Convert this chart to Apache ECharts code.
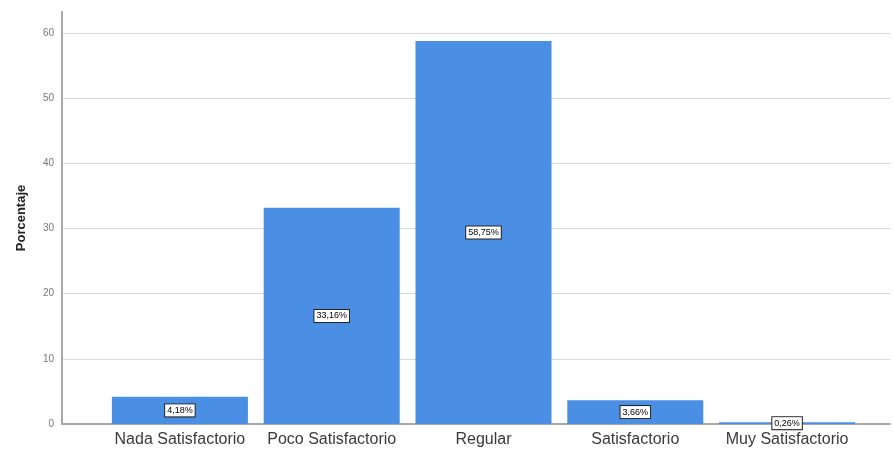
<!DOCTYPE html>
<html>
<head>
<meta charset="utf-8">
<script src="https://cdn.jsdelivr.net/npm/echarts@6/dist/echarts.min.js"></script>
<style>html,body{margin:0;padding:0;background:#fff}#c{width:894px;height:452px}</style>
</head>
<body>
<div id="c"></div>
<script>
var categories = ['Nada Satisfactorio', 'Poco Satisfactorio', 'Regular', 'Satisfactorio', 'Muy Satisfactorio'];
var values = [4.18, 33.16, 58.75, 3.66, 0.26];
var yTicks = [0, 10, 20, 30, 40, 50, 60];
var yName = 'Porcentaje';

var chart = echarts.init(document.getElementById('c'), null, {renderer: 'canvas'});
var yMax = 63.2;
chart.setOption({
  animation: false,
  grid: [
    {left: 62, right: 4, top: 12, bottom: 28},
    {left: 104, right: 31, top: 12, bottom: 28}
  ],
  xAxis: [
    {gridIndex: 0, type: 'value', min: 0, max: 1, axisLine: {show: true, lineStyle: {color: '#a8a8a8', width: 2}},
     axisTick: {show: false}, axisLabel: {show: false}, splitLine: {show: false}},
    {gridIndex: 1, type: 'category', data: categories, axisLine: {show: false}, axisTick: {show: false},
     axisLabel: {color: '#3a3a3a', fontSize: 16, interval: 0, hideOverlap: false,
       fontFamily: 'Liberation Sans, Arial, sans-serif', margin: 8}}
  ],
  yAxis: [
    {gridIndex: 0, type: 'value', min: 0, max: yMax, interval: 10,
     name: yName, nameLocation: 'middle', nameGap: 34, nameRotate: 90,
     nameTextStyle: {color: '#222', fontSize: 13, fontWeight: 'bold', fontFamily: 'Liberation Sans, Arial, sans-serif'},
     axisLine: {show: true, lineStyle: {color: '#a8a8a8', width: 2}},
     axisTick: {show: false},
     axisLabel: {color: '#777', fontSize: 10, margin: 8, fontFamily: 'Liberation Sans, Arial, sans-serif',
       formatter: function (v) { return yTicks.indexOf(v) >= 0 ? String(v) : ''; }},
     splitLine: {show: true, showMinLine: false, showMaxLine: false, lineStyle: {color: '#d9d9d9', width: 1}}},
    {gridIndex: 1, type: 'value', min: 0, max: yMax, show: false, splitLine: {show: false}}
  ],
  series: [{
    type: 'bar',
    xAxisIndex: 1,
    yAxisIndex: 1,
    data: values,
    barWidth: 136,
    itemStyle: {color: '#4a8fe3'},
    label: {
      show: true,
      position: 'inside',
      color: '#000',
      fontSize: 9,
      fontFamily: 'Liberation Sans, Arial, sans-serif',
      backgroundColor: '#fff',
      borderColor: '#222',
      borderWidth: 1,
      padding: [2, 2, 1, 2],
      formatter: function (p) { return p.value.toFixed(2).replace('.', ',') + '%'; }
    }
  }]
});
</script>
</body>
</html>
